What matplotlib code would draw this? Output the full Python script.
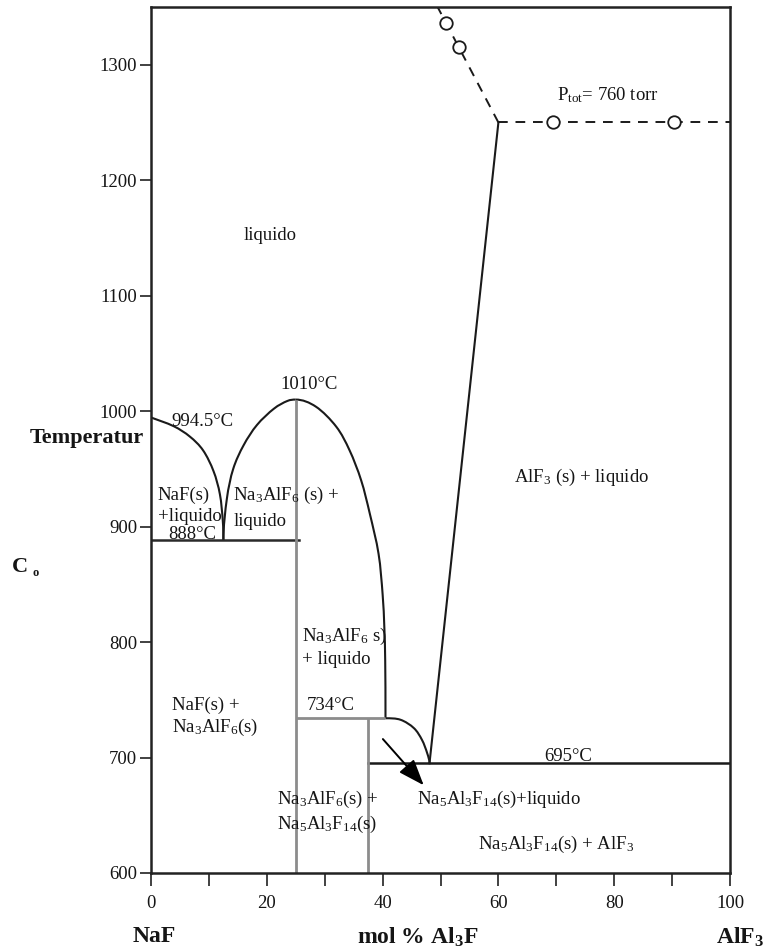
import matplotlib
matplotlib.use("Agg")
import matplotlib.pyplot as plt
from matplotlib.path import Path
from matplotlib.patches import PathPatch

plt.rcParams["font.family"] = ["Liberation Serif", "DejaVu Serif"]
plt.rcParams["mathtext.fontset"] = "custom"
plt.rcParams["mathtext.rm"] = "Liberation Serif"
plt.rcParams["mathtext.it"] = "Liberation Serif:italic"
plt.rcParams["mathtext.bf"] = "Liberation Serif:bold"

# --- invariant temperatures (°C) ---
t_naf_melt = 994.5
t_eutectic = 888
t_cryolite = 1010
t_peritectic = 734
t_eutectic2 = 695
t_boil = 1250

# --- compositions (mol % AlF3) ---
x_cryolite = 25
x_chiolite = 37.5
x_eutectic = 12.5
x_peritectic = 40.5
x_eutectic2 = 48.1
x_boil = 60

# NaF liquidus
naf_liq_x = [0, 3.9, 6.7, 9.0, 10.8, 11.9, 12.4, x_eutectic]
naf_liq_t = [t_naf_melt, 987, 978, 966, 948, 928, 905, t_eutectic]

# Na3AlF6 liquidus, left branch (eutectic -> congruent maximum)
cryo_left_x = [x_eutectic, 13.1, 14.2, 16.0, 18.3, 21.2, 23.5, x_cryolite]
cryo_left_t = [t_eutectic, 924, 950, 970.5, 988, 1002, 1008.7, t_cryolite]

# Na3AlF6 liquidus, right branch (maximum -> peritectic)
cryo_right_x = [x_cryolite, 28.5, 32.0, 34.3, 36.3, 37.8, 39.3, 40.0, 40.3, 40.45, x_peritectic]
cryo_right_t = [t_cryolite, 1003.8, 986.5, 966, 940, 911, 876.5, 841.6, 812.7, 783.7, t_peritectic]

# Na5Al3F14 + liquid boundary between 734 and 695 °C
chio_liq_x = [x_peritectic, 43.1, 45.4, 46.8, 47.7, x_eutectic2]
chio_liq_t = [t_peritectic, 732.7, 725.5, 715.3, 703.8, t_eutectic2]

# AlF3 liquidus
alf3_liq_x = [x_eutectic2, x_boil]
alf3_liq_t = [t_eutectic2, t_boil]

# Vapour boundary (dashed)
vap_left_x = [x_boil, 49.5]
vap_left_t = [t_boil, 1350]
vap_right_x = [x_boil, 100]
vap_right_t = [t_boil, t_boil]

# Measured points
meas_x = [51.0, 53.2, 69.5, 90.4]
meas_t = [1336, 1315, t_boil, t_boil]

x_ticks = [0, 20, 40, 60, 80, 100]
y_ticks = [600, 700, 800, 900, 1000, 1100, 1200, 1300]


def smooth_curve(ax, xs, ys, start=None, end=None, **kw):
    """Draw a smooth Bezier path through the given points (Catmull-Rom
    tangents); start/end may force a 'h'orizontal or 'v'ertical tangent."""
    pts = list(zip(xs, ys))
    n = len(pts)
    verts = [pts[0]]
    codes = [Path.MOVETO]
    for i in range(n - 1):
        p0 = pts[i - 1] if i > 0 else pts[i]
        p1 = pts[i]
        p2 = pts[i + 1]
        p3 = pts[i + 2] if i + 2 < n else pts[i + 1]
        c1 = (p1[0] + (p2[0] - p0[0]) / 6, p1[1] + (p2[1] - p0[1]) / 6)
        c2 = (p2[0] - (p3[0] - p1[0]) / 6, p2[1] - (p3[1] - p1[1]) / 6)
        if i == 0 and start == "h":
            c1 = (p1[0] + (p2[0] - p1[0]) / 3, p1[1])
        if i == 0 and start == "v":
            c1 = (p1[0], p1[1] + (p2[1] - p1[1]) / 3)
        if i == n - 2 and end == "h":
            c2 = (p2[0] - (p2[0] - p1[0]) / 3, p2[1])
        if i == n - 2 and end == "v":
            c2 = (p2[0], p2[1] - (p2[1] - p1[1]) / 3)
        verts += [c1, c2, p2]
        codes += [Path.CURVE4] * 3
    ax.add_patch(PathPatch(Path(verts, codes), fill=False, **kw))


W, H = 766, 951
fig = plt.figure(figsize=(W / 100, H / 100), dpi=100)
ax = fig.add_axes([151 / W, 1 - 873 / H, (730 - 151) / W, (873 - 7) / H])
ax.set_xlim(0, 100)
ax.set_ylim(600, 1350)

curve_kw = dict(edgecolor="#1a1a1a", lw=1.5, capstyle="butt")
grey_kw = dict(color="#8c8c8c", lw=2.0, solid_capstyle="butt")

smooth_curve(ax, naf_liq_x, naf_liq_t, end="v", **curve_kw)
smooth_curve(ax, cryo_left_x, cryo_left_t, start="v", end="h", **curve_kw)
smooth_curve(ax, cryo_right_x, cryo_right_t, start="h", end="v", **curve_kw)
smooth_curve(ax, chio_liq_x, chio_liq_t, start="h", end="v", **curve_kw)
ax.plot(alf3_liq_x, alf3_liq_t, color="#1a1a1a", lw=1.5)

# horizontal invariants
ax.plot([0, 25.5], [t_eutectic, t_eutectic], color="#2a2a2a", lw=1.8)
ax.plot([x_cryolite, x_peritectic], [t_peritectic, t_peritectic], **grey_kw)
ax.plot([x_chiolite, 100], [t_eutectic2, t_eutectic2], color="#1a1a1a", lw=1.8)

# compound verticals
ax.plot([x_cryolite, x_cryolite], [600, t_cryolite], **grey_kw)
ax.plot([x_chiolite, x_chiolite], [600, t_peritectic], **grey_kw)

# vapour boundaries
dash_kw = dict(color="#1a1a1a", lw=1.4, dashes=(5, 4))
ax.plot(vap_left_x, vap_left_t, **dash_kw)
ax.plot(vap_right_x, vap_right_t, **dash_kw)
ax.plot(meas_x, meas_t, ls="none", marker="o", ms=9, mfc="white",
        mec="#1a1a1a", mew=1.3, zorder=5)

# arrow toward the Na5Al3F14 + liquid field
ax.annotate("", xy=(47.1, 676), xytext=(40.05, 716),
            arrowprops=dict(arrowstyle="-|>,head_length=0.8,head_width=0.3",
                            color="black", lw=1.4, mutation_scale=20,
                            shrinkA=0, shrinkB=0))

fs = 13.5
tk = dict(fontsize=fs, color="#151515")
ax.text(20.6, 1152, "liquido", ha="center", va="center", **tk)
ax.text(27.3, 1023, "1010°C", ha="center", va="center", **tk)
ax.text(8.9, 991, "994.5°C", ha="center", va="center", **tk)
ax.text(1.2, 927, "NaF(s)", ha="left", va="center", **tk)
ax.text(1.2, 909, "+liquido", ha="left", va="center", **tk)
ax.text(7.1, 893, "888°C", ha="center", va="center", **tk)
ax.text(14.2, 927, "Na$_3$AlF$_6$ (s) +", ha="left", va="center", **tk)
ax.text(14.2, 904, "liquido", ha="left", va="center", **tk)
ax.text(26.1, 805, "Na$_3$AlF$_6$ s)", ha="left", va="center", **tk)
ax.text(26.1, 785, "+ liquido", ha="left", va="center", **tk)
ax.text(26.9, 745, "734°C", ha="left", va="center", **tk)
ax.text(3.6, 745, "NaF(s) +", ha="left", va="center", **tk)
ax.text(3.6, 726, "Na$_3$AlF$_6$(s)", ha="left", va="center", **tk)
ax.text(21.7, 663.5, "Na$_3$AlF$_6$(s) +", ha="left", va="center", **tk)
ax.text(21.7, 642, "Na$_5$Al$_3$F$_{14}$(s)", ha="left", va="center", **tk)
ax.text(72.1, 701, "695°C", ha="center", va="center", **tk)
ax.text(46.0, 663.5, "Na$_5$Al$_3$F$_{14}$(s)+liquido", ha="left", va="center", **tk)
ax.text(69.9, 624.5, "Na$_5$Al$_3$F$_{14}$(s) + AlF$_3$", ha="center", va="center", **tk)
ax.text(74.4, 943, "AlF$_3$ (s) + liquido", ha="center", va="center", **tk)
ax.text(78.9, 1274, "P$_{\\mathrm{tot}}$= 760 torr", ha="center", va="center", **tk)

# axes styling
for s in ax.spines.values():
    s.set_color("#222222")
    s.set_linewidth(1.8)
ax.set_xticks(x_ticks)
ax.set_xticks(range(0, 101, 10), minor=True)
ax.set_yticks(y_ticks)
ax.tick_params(axis="both", which="both", direction="out", color="#333333",
               width=1.3, labelsize=13.5, labelcolor="#151515")
ax.tick_params(axis="x", which="both", length=9, pad=7)
ax.tick_params(axis="y", which="major", length=8, pad=2)

# axis titles
bold = dict(fontweight="bold", color="#151515")
fig.text(30 / W, 1 - 438 / H, "Temperatur", ha="left", va="center", fontsize=16, **bold)
fig.text(20 / W, 1 - 567 / H, "C", ha="center", va="center", fontsize=16, **bold)
fig.text(36 / W, 1 - 573 / H, "o", ha="center", va="center", fontsize=9, **bold)
fig.text(154 / W, 1 - 937 / H, "NaF", ha="center", va="center", fontsize=17, **bold)
fig.text(418 / W, 1 - 937 / H, "mol % Al$_\\mathbf{3}$F", ha="center", va="center",
         fontsize=17, **bold)
fig.text(740 / W, 1 - 937 / H, "AlF$_\\mathbf{3}$", ha="center", va="center",
         fontsize=17, **bold)

fig.savefig("out.png", dpi=100)
